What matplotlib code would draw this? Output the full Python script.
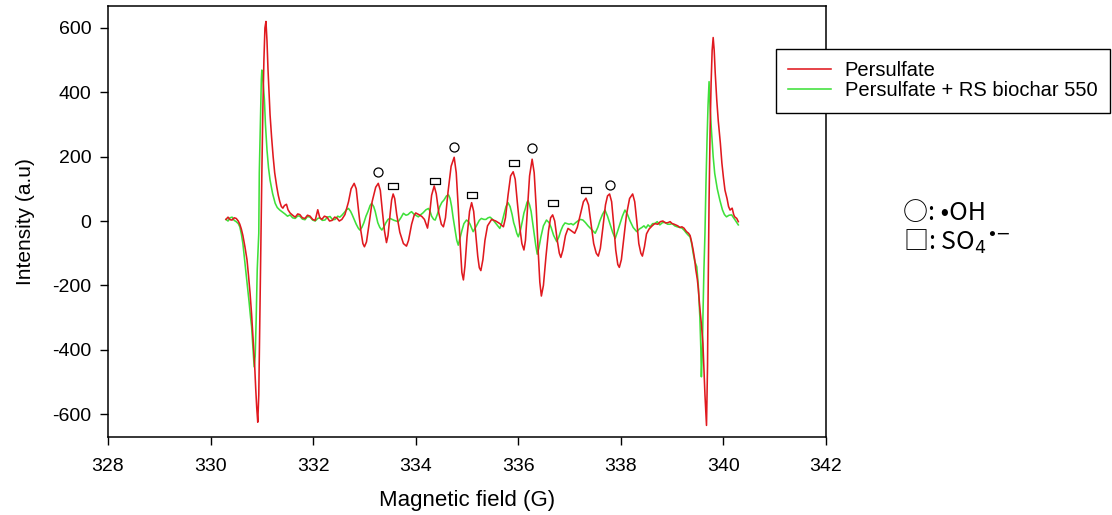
import matplotlib
matplotlib.use("Agg")
import matplotlib.pyplot as plt

# ---------------- data ----------------
red_field = [
    330.30, 330.34, 330.38, 330.42, 330.46, 330.50, 330.54, 330.57, 330.60, 330.63,
    330.67, 330.71, 330.74, 330.77, 330.80, 330.83, 330.86, 330.88, 330.90, 330.92,
    330.94, 330.96, 330.98, 331.00, 331.02, 331.04, 331.06, 331.08, 331.10, 331.12,
    331.14, 331.16, 331.19, 331.22, 331.25, 331.29, 331.32, 331.35, 331.38, 331.41,
    331.44, 331.48, 331.51, 331.55, 331.60, 331.65, 331.70, 331.74, 331.79, 331.84,
    331.89, 331.94, 331.99, 332.04, 332.09, 332.13, 332.17, 332.22, 332.27, 332.32,
    332.37, 332.42, 332.46, 332.51,
    332.56, 332.62, 332.69, 332.74, 332.80, 332.84, 332.88, 332.93, 332.97, 333.00,
    333.04, 333.09, 333.15, 333.22, 333.27, 333.31, 333.35, 333.39, 333.43, 333.46,
    333.50, 333.53, 333.56, 333.59, 333.63, 333.69, 333.76, 333.82, 333.86, 333.92,
    333.97, 334.00, 334.06, 334.12, 334.17, 334.23, 334.27, 334.31, 334.36, 334.40,
    334.45, 334.50, 334.54, 334.58, 334.63, 334.69, 334.75, 334.79, 334.83, 334.87,
    334.90, 334.93, 334.96, 335.00, 335.05, 335.09, 335.13, 335.17, 335.21, 335.24,
    335.27, 335.31, 335.35, 335.40, 335.48, 335.56, 335.64, 335.71, 335.75, 335.80,
    335.85, 335.90, 335.94, 335.98, 336.03, 336.07, 336.11, 336.14, 336.18, 336.22,
    336.27, 336.31, 336.35, 336.39, 336.42, 336.45, 336.49, 336.54, 336.59, 336.63,
    336.67, 336.71, 336.76, 336.80, 336.83, 336.87, 336.92, 336.97, 337.03, 337.10,
    337.15, 337.21, 337.27, 337.32, 337.37, 337.42, 337.47, 337.52, 337.56, 337.60,
    337.65, 337.70, 337.74, 337.78, 337.82, 337.86, 337.90, 337.94, 337.97, 338.01,
    338.06, 338.11, 338.17, 338.23, 338.27, 338.31, 338.35, 338.39, 338.42, 338.46,
    338.50,
    338.55, 338.61, 338.66, 338.72, 338.77, 338.82, 338.87, 338.92, 338.96, 339.00,
    339.04, 339.07, 339.11, 339.15, 339.19, 339.23, 339.28, 339.32, 339.35, 339.38,
    339.41, 339.44, 339.46, 339.49, 339.51, 339.54, 339.57, 339.60, 339.62, 339.64,
    339.67, 339.69, 339.70, 339.72, 339.74, 339.76, 339.78, 339.80, 339.82, 339.84,
    339.87, 339.90, 339.94, 339.97, 340.00, 340.03, 340.07, 340.10, 340.13, 340.17,
    340.20, 340.22, 340.26, 340.29]
red_int = [
    5, 12, 4, 3, 10, 8, 0, -10, -25, -45,
    -80, -120, -170, -224, -290, -370, -450, -520, -580, -625,
    -540, -300, -80, 150, 350, 500, 600, 620, 560, 470,
    400, 330, 260, 200, 150, 107, 80, 60, 45, 40,
    48, 52, 35, 25, 18, 12, 22, 20, 10, 8,
    18, 15, 5, 2, 35, 10, 5, 15, 12, 0,
    2, 12, 10, 0,
    5, 20, 60, 100, 117, 100, 40, -30, -70, -80,
    -65, -10, 60, 105, 117, 95, 30, -30, -67, -45,
    20, 65, 84, 70, 20, -35, -70, -78, -60, -10,
    18, 25, 20, 14, 5, -22, 20, 80, 109, 85,
    25, -10, -18, 10, 90, 170, 198, 150, 40, -80,
    -160, -183, -140, -50, 30, 57, 30, -40, -110, -145,
    -154, -120, -60, -15, 5, 0, -8, -18, 10, 80,
    140, 153, 130, 60, -20, -70, -90, -60, 40, 140,
    192, 150, 40, -100, -190, -233, -200, -110, -30, 10,
    19, 0, -60, -100, -113, -90, -45, -23, -30, -38,
    -20, 20, 60, 71, 50, -10, -70, -100, -109, -85,
    -20, 50, 78, 84, 60, -10, -90, -135, -144, -120,
    -50, 20, 70, 84, 60, 0, -70, -100, -109, -80,
    -40,
    -25, -15, -8, -10, -2, 0, -6, -5, -2, -8,
    -10, -12, -15, -20, -18, -22, -33, -38, -45, -65,
    -90, -120, -150, -180, -210, -270, -320, -380, -460, -540,
    -635, -450, -250, 65, 280, 430, 530, 570, 530, 460,
    376, 310, 242, 180, 135, 96, 70, 45, 34, 40,
    20, 13, 8, -2]

green_field = [
    330.30, 330.34, 330.38, 330.42, 330.46, 330.50, 330.54, 330.57, 330.60, 330.63,
    330.66, 330.70, 330.73, 330.75, 330.78, 330.80, 330.83, 330.85, 330.87, 330.89,
    330.91, 330.94, 330.95, 330.97, 330.99, 331.00, 331.02, 331.03, 331.05, 331.07,
    331.10, 331.13, 331.16, 331.21, 331.26, 331.30, 331.35, 331.40, 331.45, 331.50,
    331.55, 331.60, 331.65, 331.70, 331.74, 331.79, 331.84, 331.89, 331.94, 331.99,
    332.04, 332.09, 332.13, 332.18, 332.23, 332.28, 332.33, 332.38, 332.43, 332.48,
    332.52, 332.56, 332.60, 332.65, 332.69, 332.73, 332.76, 332.80, 332.84, 332.88,
    332.91, 332.95, 332.99, 333.03, 333.07, 333.11, 333.14, 333.18, 333.21, 333.26,
    333.30, 333.34, 333.38, 333.42, 333.46, 333.50, 333.54, 333.58, 333.62, 333.66,
    333.71, 333.76, 333.81, 333.85, 333.89, 333.92, 333.96, 334.00, 334.05, 334.10,
    334.14, 334.20, 334.25, 334.28, 334.31, 334.35, 334.38, 334.42, 334.47, 334.51,
    334.55, 334.60, 334.64, 334.67, 334.70, 334.73, 334.76, 334.80, 334.83, 334.86,
    334.90, 334.94, 334.99, 335.03, 335.06, 335.09, 335.12, 335.16, 335.20, 335.24,
    335.28, 335.33, 335.37, 335.41, 335.45, 335.50, 335.55, 335.60, 335.64, 335.68,
    335.72, 335.76, 335.80, 335.84, 335.88, 335.91, 335.94, 335.97, 336.00, 336.04,
    336.08, 336.11, 336.14, 336.17, 336.19, 336.22, 336.25, 336.28, 336.31, 336.34,
    336.37, 336.40, 336.44, 336.49, 336.55, 336.60, 336.64, 336.69, 336.75, 336.79,
    336.83, 336.87, 336.91, 336.95, 336.99, 337.03, 337.07, 337.12, 337.16, 337.21,
    337.26, 337.31, 337.36, 337.42, 337.46, 337.50, 337.55, 337.59, 337.64, 337.69,
    337.74, 337.79, 337.84, 337.89, 337.93, 337.98, 338.03, 338.08, 338.13, 338.18,
    338.24, 338.31, 338.36, 338.41, 338.45, 338.49, 338.53,
    338.57, 338.62, 338.66, 338.71, 338.76, 338.81, 338.86, 338.91, 338.96, 339.00,
    339.05, 339.10, 339.15, 339.19, 339.23, 339.28, 339.32, 339.35, 339.38, 339.41,
    339.44, 339.48, 339.51, 339.54, 339.56, 339.57, 339.59, 339.60, 339.62, 339.64,
    339.66, 339.68, 339.70, 339.72, 339.74, 339.77, 339.80, 339.83, 339.88, 339.93,
    339.98, 340.02, 340.06, 340.11, 340.16, 340.19, 340.22, 340.26, 340.29]
green_int = [
    5, 0, 10, 12, 2, -2, -8, -18, -40, -70,
    -115, -173, -220, -250, -300, -328, -400, -453, -420, -300,
    -150, -38, 150, 300, 440, 469, 440, 420, 376, 300,
    221, 165, 127, 85, 55, 42, 34, 28, 22, 15,
    19, 10, 8, 16, 15, 6, 4, 14, 12, 3,
    0, 8, 10, 2, 3, 12, 14, 4, 5, 15,
    12, 18, 25, 35, 39, 30, 20, 5, -10, -22,
    -28, -20, -5, 15, 30, 48, 55, 45, 30, -5,
    -20, -28, -18, -5, 5, 8, 5, 2, 0, -2,
    10, 24, 18, 20, 26, 29, 22, 18, 13, 20,
    25, 35, 39, 30, 15, 5, 3, 20, 45, 58,
    65, 78, 81, 70, 45, 10, -20, -60, -75, -55,
    -30, -8, 3, -2, -10, -22, -33, -22, -10, 2,
    8, 5, 5, 10, 12, 5, -5, -15, -23, -5,
    20, 45, 57, 45, 20, -5, -20, -38, -49, -30,
    0, 25, 40, 58, 63, 50, 30, -5, -40, -75,
    -103, -85, -50, -15, 3, -5, -20, -45, -64, -50,
    -30, -15, -6, -8, -10, -8, -12, -5, 0, 5,
    3, -5, -15, -25, -32, -38, -20, 0, 20, 34,
    15, -10, -35, -54, -35, -10, 15, 34, 20, 0,
    -20, -33, -25, -20, -15, -22, -12,
    -18, -8, -8, -2, -12, -5, -4, -10, -10, -8,
    -15, -18, -20, -22, -28, -38, -45, -49, -70, -100,
    -125, -142, -200, -297, -400, -484, -400, -300, -150, -38,
    120, 250, 360, 433, 350, 272, 200, 148, 100, 65,
    35, 20, 13, 18, 19, 12, 5, -5, -12]

oh_field = [333.27, 334.75, 336.27, 337.78]
oh_int = [153, 231, 228, 112]
so4_field = [333.56, 334.38, 335.10, 335.91, 336.67, 337.33]
so4_int = [109, 125, 80, 181, 57, 96]

x_ticks = [328, 330, 332, 334, 336, 338, 340, 342]
y_ticks = [-600, -400, -200, 0, 200, 400, 600]
series_labels = ["Persulfate", "Persulfate + RS biochar 550"]

# ---------------- figure ----------------
plt.rcParams["font.family"] = ["Liberation Sans", "DejaVu Sans"]
plt.rcParams["axes.unicode_minus"] = False
fig = plt.figure(figsize=(11.12, 5.15), dpi=100)
ax = fig.add_axes([108 / 1112, 1 - 437 / 515, (826 - 108) / 1112, (437 - 6) / 515])

l1, = ax.plot(red_field, red_int, color="#e0191f", lw=1.15, label=series_labels[0], zorder=3)
l2, = ax.plot(green_field, green_int, color="#3fe03a", lw=1.15, label=series_labels[1], zorder=2)

rect = [(-1, -0.55), (1, -0.55), (1, 0.55), (-1, 0.55), (-1, -0.55)]
ax.plot(oh_field, oh_int, ls="none", marker="o", ms=6.5, mfc="white", mec="black", mew=0.9, zorder=4)
ax.plot(so4_field, so4_int, ls="none", marker=rect, ms=7, mfc="white", mec="black", mew=0.9, zorder=4)

ax.set_xlim(328, 342)
ax.set_ylim(-671, 668)
ax.set_xticks(x_ticks)
ax.set_yticks(y_ticks)
ax.tick_params(direction="out", length=6, width=1, labelsize=14, top=False, right=False)
ax.tick_params(axis="x", pad=9)
ax.tick_params(axis="y", pad=6)
for s in ax.spines.values():
    s.set_linewidth(1.1)

ax.set_xlabel("Magnetic field (G)", fontsize=16, labelpad=11)
ax.set_ylabel("Intensity (a.u)", fontsize=15, labelpad=12)

leg = fig.legend(handles=[l1, l2], labels=series_labels, loc="upper left",
                 bbox_to_anchor=(776 / 1112, 1 - 49 / 515), borderaxespad=0,
                 fontsize=14.5, frameon=True, fancybox=False, framealpha=1,
                 edgecolor="black", handlelength=2.1, handletextpad=0.7,
                 labelspacing=0.05, borderpad=0.62)
leg.get_frame().set_linewidth(1.0)

ann_font = ["Noto Sans CJK KR", "DejaVu Sans"]
fig.text(903 / 1112, 1 - 213 / 515, "○: •OH", fontsize=18, family=ann_font,
         va="center", ha="left")
fig.text(903 / 1112, 1 - 242 / 515, r"□: SO$_4$$^{\bullet}$$^{\!{-}}$", fontsize=18,
         family=ann_font, va="center", ha="left")

fig.savefig("out.png", dpi=100)
